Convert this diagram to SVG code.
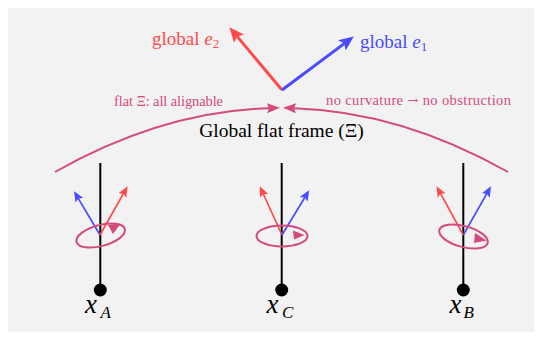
<svg xmlns="http://www.w3.org/2000/svg" width="542" height="340" viewBox="0 0 542 340">
<style>
.serif{font-family:"Liberation Serif","DejaVu Serif",serif}
.pk{fill:#d44a7c}
.pinkline{fill:none;stroke:#d44a7c;stroke-width:2}
.red{stroke:#ff4a4a;fill:none}
.blue{stroke:#4a4aff;fill:none}
.pole{stroke:#000;stroke-width:2}
.ell{fill:none;stroke:#d44a7c;stroke-width:2}
.xlbl{font-size:27px;font-style:italic;fill:#000}
.sub{font-size:17px;font-style:italic}
</style>
<defs>
<marker id="bigR" markerUnits="userSpaceOnUse" markerWidth="16" markerHeight="14" viewBox="0 -7 16 14" refX="3" refY="0" orient="auto"><path d="M0,-6.5 L15,0 L0,6.5 L3,0 z" fill="#ff4a4a"/></marker>
<marker id="bigB" markerUnits="userSpaceOnUse" markerWidth="16" markerHeight="14" viewBox="0 -7 16 14" refX="3" refY="0" orient="auto"><path d="M0,-6.5 L15,0 L0,6.5 L3,0 z" fill="#4a4aff"/></marker>
<marker id="smR" markerUnits="userSpaceOnUse" markerWidth="12" markerHeight="10" viewBox="0 -5 12 10" refX="2" refY="0" orient="auto"><path d="M0,-4.5 L10.5,0 L0,4.5 L2,0 z" fill="#ff4a4a"/></marker>
<marker id="smB" markerUnits="userSpaceOnUse" markerWidth="12" markerHeight="10" viewBox="0 -5 12 10" refX="2" refY="0" orient="auto"><path d="M0,-4.5 L10.5,0 L0,4.5 L2,0 z" fill="#4a4aff"/></marker>
<marker id="pkA" markerUnits="userSpaceOnUse" markerWidth="14" markerHeight="12" viewBox="0 -6 14 12" refX="2" refY="0" orient="auto"><path d="M0,-5 L13,0 L0,5 L2,0 z" fill="#d44a7c"/></marker>
</defs>
<rect x="8" y="8" width="526" height="324" fill="#f2f2f2"/>

<g id="global-frame">
<line x1="282" y1="90" x2="237.1" y2="36.4" class="red" stroke-width="3" marker-end="url(#bigR)"/>
<line x1="282" y1="90" x2="344.2" y2="43.6" class="blue" stroke-width="3" marker-end="url(#bigB)"/>
<text x="152" y="45" class="serif" font-size="19" fill="#ff4a4a">global <tspan font-style="italic">e</tspan><tspan font-size="13" dy="3">2</tspan></text>
<text x="360" y="48" class="serif" font-size="19" fill="#4a4aff">global <tspan font-style="italic">e</tspan><tspan font-size="13" dy="3">1</tspan></text>
</g>

<g id="connectors">
<path d="M55,172 Q162,111.5 269,108.2" class="pinkline" marker-end="url(#pkA)"/>
<path d="M508,172 Q401,111.5 294,108.2" class="pinkline" marker-end="url(#pkA)"/>
</g>

<g id="labels">
<text x="114" y="105.5" class="serif pk" font-size="14.5" textLength="109" lengthAdjust="spacing">flat Ξ: all alignable</text>
<text x="326" y="105" class="serif pk" font-size="14.5" textLength="185" lengthAdjust="spacing">no curvature <tspan font-family="DejaVu Serif, serif" font-size="13">→</tspan> no obstruction</text>
<text x="281.5" y="136.5" class="serif" font-size="19.5" fill="#000" text-anchor="middle">Global flat frame (Ξ)</text>
</g>

<g id="node-xA">
<line x1="100.3" y1="163" x2="100.3" y2="290" class="pole"/>
<line x1="100" y1="235" x2="78.4" y2="198.6" class="blue" stroke-width="1.7" marker-end="url(#smB)"/>
<line x1="100" y1="235" x2="123.4" y2="193.7" class="red" stroke-width="1.7" marker-end="url(#smR)"/>
<ellipse cx="100.7" cy="235.5" rx="25" ry="10.5" transform="rotate(-15 100.7 235.5)" class="ell"/>
<polygon points="108,225 120.5,223.8 113,234" class="pk"/>
<circle cx="100.3" cy="290" r="6.5" fill="#000"/>
<text x="85" y="312.5" class="serif xlbl">x<tspan x="100.5" y="318" class="sub">A</tspan></text>
</g>

<g id="node-xC">
<line x1="281.7" y1="163" x2="281.7" y2="290" class="pole"/>
<line x1="282" y1="235" x2="263.3" y2="194.0" class="red" stroke-width="1.7" marker-end="url(#smR)"/>
<line x1="282" y1="235" x2="304.8" y2="197.5" class="blue" stroke-width="1.7" marker-end="url(#smB)"/>
<ellipse cx="282" cy="236" rx="25.5" ry="10.5" class="ell"/>
<polygon points="293,230.5 294,239.5 304.5,235" class="pk"/>
<circle cx="281.7" cy="290" r="6.5" fill="#000"/>
<text x="266.5" y="312.5" class="serif xlbl">x<tspan x="282" y="318" class="sub">C</tspan></text>
</g>

<g id="node-xB">
<line x1="463.3" y1="163" x2="463.3" y2="290" class="pole"/>
<line x1="463.3" y1="235" x2="440.6" y2="193.7" class="red" stroke-width="1.7" marker-end="url(#smR)"/>
<line x1="463.3" y1="235" x2="486.8" y2="193.7" class="blue" stroke-width="1.7" marker-end="url(#smB)"/>
<ellipse cx="463.5" cy="236.5" rx="25" ry="10.5" transform="rotate(15 463.5 236.5)" class="ell"/>
<polygon points="475,233 474,243 486.5,240.5" class="pk"/>
<circle cx="463.3" cy="290" r="6.5" fill="#000"/>
<text x="449.5" y="312.5" class="serif xlbl">x<tspan x="463.5" y="318" class="sub">B</tspan></text>
</g>
</svg>
